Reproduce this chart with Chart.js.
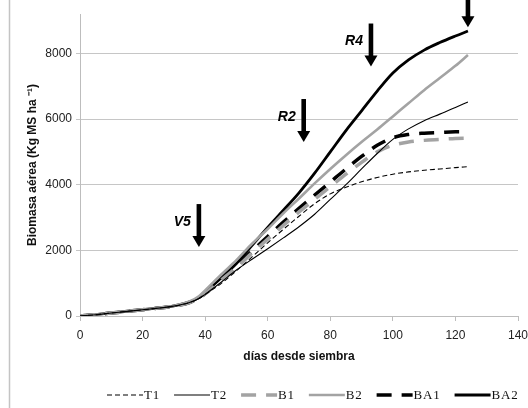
<!DOCTYPE html>
<html>
<head>
<meta charset="utf-8">
<script src="https://cdn.jsdelivr.net/npm/chart.js@4.4.1/dist/chart.umd.min.js"></script>
<style>
html,body{margin:0;padding:0;background:#fff;}
#wrap{width:528px;height:408px;}
</style>
</head>
<body>
<div id="wrap"><canvas id="c" width="528" height="408"></canvas></div>
<script>
// ---- data ----
const days = [0,5,10,15,20,25,30,35,38,40,45,50,55,60,65,70,75,80,85,90,95,100,105,110,115,120,124];
const T1  = [0,40,90,140,190,240,300,410,530,660,980,1380,1800,2230,2640,3040,3420,3720,3920,4090,4220,4320,4390,4440,4480,4520,4550];
const T2  = [0,40,90,140,190,240,300,410,530,660,1020,1400,1730,2050,2380,2720,3100,3550,4000,4480,4950,5380,5700,5950,6150,6350,6520];
const B1  = [0,40,90,140,190,240,300,410,540,680,1080,1480,1920,2340,2760,3170,3560,3940,4320,4680,5000,5200,5300,5350,5380,5410,5420];
const B2  = [0,45,95,145,195,245,310,440,600,780,1250,1700,2200,2650,3130,3580,4040,4480,4900,5300,5680,6080,6480,6880,7250,7620,7950];
const BA1 = [0,40,90,140,190,240,300,410,540,680,1100,1520,1980,2420,2860,3280,3680,4080,4480,4860,5200,5430,5530,5570,5590,5610,5610];
const BA2 = [0,45,95,145,195,245,310,430,560,720,1150,1600,2150,2700,3220,3750,4350,5000,5650,6250,6850,7400,7800,8100,8330,8530,8680];
const seriesNames = ['T1','T2','B1','B2','BA1','BA2'];
const xTicks = [0,20,40,60,80,100,120,140];
const yTicks = [0,2000,4000,6000,8000];
const stageDays = [38, 71.5, 93, 124];
const stageTips = [2100, 5300, 7600, 8800];
const stageLabels = ['V5','R2','R4',''];
const xTitle = 'días desde siembra';
const yTitle = 'Biomasa aérea (Kg MS ha ⁻¹)';

// ---- styles ----
const GRAY = '#a3a3a3';
const styles = [
  {borderColor:'#000', borderWidth:1.1, borderDash:[5,3]},
  {borderColor:'#000', borderWidth:1.1, borderDash:[]},
  {borderColor:GRAY, borderWidth:3.5, borderDash:[15,10]},
  {borderColor:GRAY, borderWidth:2.6, borderDash:[]},
  {borderColor:'#000', borderWidth:3.5, borderDash:[15,10]},
  {borderColor:'#000', borderWidth:2.8, borderDash:[]}
];
const values = [T1,T2,B1,B2,BA1,BA2];
const datasets = values.map((arr,i)=>Object.assign({
  label: seriesNames[i],
  data: days.map((d,j)=>({x:d, y:arr[j]})),
  pointRadius:0,
  fill:false,
  cubicInterpolationMode:'monotone'
}, styles[i]));

const frame = {
  id:'frame',
  beforeDraw(chart){
    const ctx = chart.ctx;
    ctx.save();
    ctx.strokeStyle = '#c4c4c4';
    ctx.lineWidth = 1.5;
    ctx.beginPath(); ctx.moveTo(9.5,0); ctx.lineTo(9.5,408); ctx.stroke();
    ctx.restore();
  }
};

const stageArrows = {
  id:'stageArrows',
  afterDatasetsDraw(chart){
    const {ctx, scales:{x,y}} = chart;
    ctx.save();
    stageDays.forEach((d,i)=>{
      const px = x.getPixelForValue(d);
      const tip = y.getPixelForValue(stageTips[i]);
      const len = 43, head = 11;
      const top = tip - len;
      ctx.fillStyle = '#000';
      ctx.fillRect(px-2.3, top, 4.6, len-head+1);
      ctx.beginPath();
      ctx.moveTo(px-6.5, tip-head); ctx.lineTo(px+6.5, tip-head); ctx.lineTo(px, tip);
      ctx.closePath(); ctx.fill();
      if (stageLabels[i]) {
        ctx.font = 'italic bold 14px "Liberation Sans", Arial, sans-serif';
        ctx.textAlign = 'right';
        ctx.textBaseline = 'middle';
        ctx.fillText(stageLabels[i], px-8, top+18);
      }
    });
    ctx.restore();
  }
};

const lineLegend = {
  id:'lineLegend',
  afterDraw(chart){
    const ctx = chart.ctx;
    ctx.save();
    ctx.font = '13px "Liberation Serif", "Times New Roman", serif';
    if ('letterSpacing' in ctx) ctx.letterSpacing = '0.8px';
    ctx.textBaseline = 'middle';
    ctx.textAlign = 'left';
    let x = 107;
    const yc = 395;
    chart.data.datasets.forEach(ds=>{
      ctx.strokeStyle = ds.borderColor;
      ctx.lineWidth = ds.borderWidth;
      ctx.setLineDash(ds.borderDash || []);
      ctx.beginPath(); ctx.moveTo(x, yc); ctx.lineTo(x+36, yc); ctx.stroke();
      ctx.setLineDash([]);
      ctx.fillStyle = '#111';
      ctx.fillText(ds.label, x+37, yc+1);
      x += 37 + ctx.measureText(ds.label).width + 14;
    });
    ctx.restore();
  }
};

new Chart(document.getElementById('c'), {
  type:'line',
  data:{datasets},
  options:{
    responsive:false,
    animation:false,
    events:[],
    layout:{padding:{left:10, top:14, right:0, bottom:40}},
    plugins:{legend:{display:false}, tooltip:{enabled:false}},
    scales:{
      x:{
        type:'linear', min:0, max:140,
        afterBuildTicks: s => { s.ticks = xTicks.map(v=>({value:v})); },
        ticks:{font:{family:'"Liberation Sans", Arial, sans-serif', size:12}, color:'#222', padding:7, maxRotation:0,
               callback: v => String(v)},
        grid:{drawOnChartArea:false, drawTicks:true, tickLength:5, color:'#bdbdbd'},
        border:{color:'#bdbdbd'},
        title:{display:true, text:xTitle, color:'#111', font:{family:'"Liberation Sans", Arial, sans-serif', size:12, weight:'bold'}, padding:{top:4,bottom:4}},
        afterFit: s => { s.height = 52; s.paddingRight = 10; s.paddingLeft = 0; }
      },
      y:{
        min:0, max:9200,
        afterBuildTicks: s => { s.ticks = yTicks.map(v=>({value:v})); },
        ticks:{font:{family:'"Liberation Sans", Arial, sans-serif', size:12}, color:'#222', padding:4,
               callback: v => String(v)},
        grid:{color:'#c6c6c6', tickLength:4, lineWidth:1},
        border:{color:'#bdbdbd'},
        title:{display:true, text:yTitle, color:'#111', font:{family:'"Liberation Sans", Arial, sans-serif', size:12, weight:'bold'}, padding:{top:15,bottom:0}},
        afterFit: s => { s.width = 70; s.paddingTop = 0; s.paddingBottom = 0; }
      }
    }
  },
  plugins:[frame, stageArrows, lineLegend]
});
</script>
</body>
</html>
